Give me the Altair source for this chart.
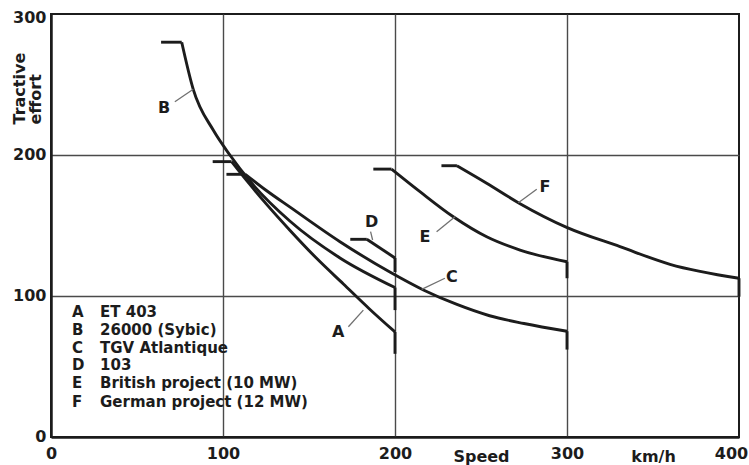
import altair as alt
import pandas as pd

# ---------------- data ----------------
series = ["A", "B", "C", "D", "E", "F"]
names = ["ET 403", "26000 (Sybic)", "TGV Atlantique", "103",
         "British project (10 MW)", "German project (12 MW)"]

# constant tractive-effort start of each curve (speed from, speed to, effort)
flat_from = [94, 64, 102, 174, 187.4, 227]
flat_to = [105, 76, 113, 183.6, 198, 236]
flat_effort = [195.3, 280, 186.3, 140.2, 190, 192.4]

# falling part of each curve (speed km/h, tractive effort kN)
a_speed = [105, 115, 125, 139, 155, 170, 185, 200]
a_effort = [195.3, 180, 165.5, 146.5, 126, 108.5, 91, 74.5]
b_speed = [76, 82.7, 94.4, 104, 116, 139, 168, 200]
b_effort = [280, 246.6, 217.5, 200, 181, 153, 127, 106]
c_speed = [113, 125, 139, 168, 197, 216.5, 236, 255, 275, 300]
c_effort = [186.3, 175, 163, 138.5, 117, 104.3, 94, 86, 80.5, 75]
d_speed = [183.6, 200]
d_effort = [140.2, 127]
e_speed = [198, 214.5, 233.9, 253.3, 272.7, 300]
e_effort = [190, 174, 156.2, 142, 132.6, 124.3]
f_speed = [236, 253.3, 272.7, 299.8, 330.8, 359.9, 400]
f_effort = [192.4, 180, 165.5, 148.7, 135, 122.5, 112.6]

# end of each curve: vertical drop down to
drop_to = [59, 90, 62, 117, 112.6, 99.5]

# curve letters and their leader lines
label_speed = [167, 65.7, 233, 186.4, 217.4, 287.2]
label_effort = [74.7, 233.5, 113.7, 152.7, 142, 177.5]
lead_speed = [(172.9, 181.6), (72, 82.7), (229, 215.5), (185.8, 187), (224.2, 234.9), (282.4, 271.7)]
lead_effort = [(78.2, 90), (237.8, 246.6), (112.6, 104.7), (145.6, 139.7), (145.6, 156.2), (175.7, 166.2)]

# key in lower-left corner (positions in data units)
key_letter_x = 12.2
key_name_x = 28.5
key_row_y = [88.9, 75.9, 62.9, 51.1, 38.1, 25.0]

x_ticks = [0, 100, 200, 250, 300, 350, 400]
y_ticks = [0, 100, 200, 300]

# ---------------- tables ----------------
curve_lists = {"A": (a_speed, a_effort), "B": (b_speed, b_effort), "C": (c_speed, c_effort),
               "D": (d_speed, d_effort), "E": (e_speed, e_effort), "F": (f_speed, f_effort)}
rows = []
for s in series:
    xs, ys = curve_lists[s]
    for i, (x, y) in enumerate(zip(xs, ys)):
        rows.append({"series": s, "x": x, "y": y, "idx": i})
curve_df = pd.DataFrame(rows)

flat_df = pd.DataFrame({"series": series, "x": flat_from, "x1": flat_to, "y": flat_effort})
drop_df = pd.DataFrame({
    "series": series,
    "x": [curve_lists[s][0][-1] for s in series],
    "y": [curve_lists[s][1][-1] for s in series],
    "y1": drop_to,
})
label_df = pd.DataFrame({"series": series, "x": label_speed, "y": label_effort})
lead_rows = []
for s, xs, ys in zip(series, lead_speed, lead_effort):
    for i in range(2):
        lead_rows.append({"series": s, "x": xs[i], "y": ys[i], "idx": i})
lead_df = pd.DataFrame(lead_rows)
key_df = pd.DataFrame({"series": series, "name": names, "y": key_row_y,
                       "lx": [key_letter_x] * 6, "nx": [key_name_x] * 6})

# ---------------- styling ----------------
INK = "#1c1c1c"
GRID = "#4a4a4a"
FONT = "DejaVu Sans"
xs_ = alt.Scale(domain=[0, 400], nice=False, zero=False)
ys_ = alt.Scale(domain=[0, 300], nice=False, zero=False)

x_axis = alt.Axis(
    values=x_ticks,
    labelExpr="datum.value == 250 ? 'Speed' : datum.value == 350 ? 'km/h' : datum.label",
    title=None, ticks=False, domain=True, domainColor=INK, domainWidth=2.5,
    grid=True, gridColor=GRID, gridWidth=1.4,
    gridOpacity={"condition": {"test": "datum.value == 100 || datum.value == 200 || datum.value == 300",
                               "value": 1}, "value": 0},
    labelFont=FONT, labelFontSize=16, labelFontWeight="bold", labelColor=INK,
    labelFlush=False, labelAlign="center", labelBaseline="top",
    labelPadding={"condition": {"test": "datum.value == 250 || datum.value == 350", "value": 11}, "value": 8},
    labelOffset={"condition": {"test": "datum.value == 400", "value": -8}, "value": 0},
)
y_axis = alt.Axis(
    values=y_ticks, title=["Tractive", "effort"],
    ticks=False, domain=True, domainColor=INK, domainWidth=2.5,
    grid=True, gridColor=GRID, gridWidth=1.4,
    gridOpacity={"condition": {"test": "datum.value == 100 || datum.value == 200", "value": 1}, "value": 0},
    labelFont=FONT, labelFontSize=16, labelFontWeight="bold", labelColor=INK,
    labelPadding=5, labelBaseline="middle", labelFlush=False,
    labelOffset={"condition": {"test": "datum.value == 300", "value": 3}, "value": -1},
    titleFont=FONT, titleFontSize=16, titleFontWeight="bold", titleColor=INK,
    titleAngle=-90, titleAlign="left", titleBaseline="middle", titleLineHeight=16,
    titleX=-32, titleY=110,
)

X = alt.X("x:Q", scale=xs_, axis=x_axis)
Y = alt.Y("y:Q", scale=ys_, axis=y_axis)

curves = alt.Chart(curve_df).mark_line(interpolate="monotone", color=INK, strokeWidth=2.9).encode(
    x=X, y=Y, detail="series:N", order="idx:Q",
)
flats = alt.Chart(flat_df).mark_rule(color=INK, strokeWidth=2.9).encode(
    x=X, x2="x1:Q", y=Y,
)
drops = alt.Chart(drop_df).mark_rule(color=INK, strokeWidth=2.9).encode(
    x=X, y=Y, y2="y1:Q",
)
leads = alt.Chart(lead_df).mark_line(color="#707070", strokeWidth=1.3).encode(
    x=X, y=Y, detail="series:N", order="idx:Q",
)
labels = alt.Chart(label_df).mark_text(font=FONT, fontSize=16, fontWeight="bold", color=INK,
                                       align="center", baseline="middle").encode(
    x=X, y=Y, text="series:N",
)
key_letters = alt.Chart(key_df).mark_text(font=FONT, fontSize=15, fontWeight="bold", color=INK,
                                          align="left", baseline="middle").encode(
    x=alt.X("lx:Q", scale=xs_, axis=x_axis), y=Y, text="series:N",
)
key_names = alt.Chart(key_df).mark_text(font=FONT, fontSize=15, fontWeight="bold", color=INK,
                                        align="left", baseline="middle").encode(
    x=alt.X("nx:Q", scale=xs_, axis=x_axis), y=Y, text="name:N",
)

chart = alt.layer(curves, flats, drops, leads, labels, key_letters, key_names).properties(
    width=688, height=423,
    autosize=alt.AutoSizeParams(type="none"),
    padding={"left": 51, "top": 14, "right": 10, "bottom": 28},
    background="white",
).configure_view(stroke=INK, strokeWidth=2)

chart.save("out.html", embed_options={"renderer": "svg", "actions": False})
